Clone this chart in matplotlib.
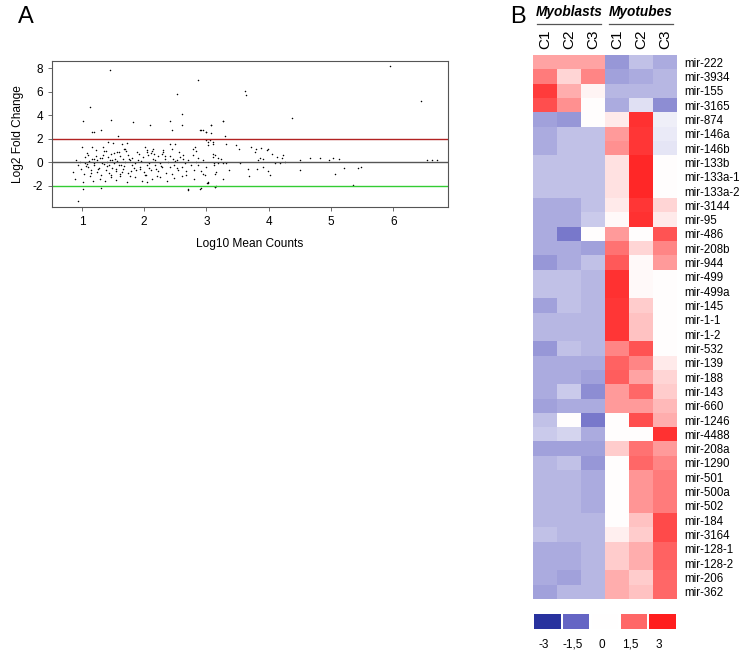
import matplotlib
matplotlib.use("Agg")
import matplotlib.pyplot as plt
import numpy as np
from matplotlib.colors import LinearSegmentedColormap, Normalize

plt.rcParams["font.family"] = ["Liberation Sans", "DejaVu Sans"]
plt.rcParams["axes.unicode_minus"] = False

W, H = 748, 654

# ---- panel A: MA plot (log10 mean counts vs log2 fold change) ----
ma_x = [1.45, 1.13, 1.02, 1.47, 1.17, 1.20, 1.30, 1.82, 2.09, 1.58, 2.42, 2.45,
        2.53, 2.60, 2.60, 2.86, 2.90, 2.95, 2.99, 3.07, 3.07, 3.27, 3.30, 3.62,
        3.63, 4.38, 5.95, 6.45,
        2.71, 2.89, 3.13, 0.94, 1.02, 1.30, 3.03, 5.36,
        1.00, 1.42, 1.50, 1.64, 1.72, 1.69, 1.17, 1.34, 2.01, 2.05, 2.14, 2.41,
        2.44, 2.49, 2.78, 2.81, 2.99, 3.02, 3.10,
        1.05, 1.10, 1.16, 1.23, 1.29, 1.34, 1.42, 1.47, 1.53, 1.61, 1.66, 1.74,
        1.80, 1.90, 1.98, 2.06, 2.11, 2.14, 2.22, 2.28, 2.33, 2.41, 2.47, 2.52,
        2.57, 2.63, 2.70, 2.78, 2.86, 2.94, 3.13,
        0.86, 0.94, 0.99, 1.05, 1.10, 1.15, 1.20, 1.27, 1.33, 1.38, 1.44, 1.49,
        1.54, 1.60, 1.66, 1.74, 1.80, 1.87, 1.93, 2.00, 2.05, 2.11, 2.18, 2.23,
        2.28, 2.35, 2.41, 2.48, 2.54, 2.60, 2.67, 2.75, 2.80, 2.87, 2.91, 2.99,
        3.12, 3.16,
        0.89, 1.02, 1.13, 1.18, 1.29, 1.37, 1.47, 1.55, 1.61, 1.72, 1.85, 1.96,
        2.03, 2.05, 2.13, 2.26, 2.36, 2.48, 2.60, 2.70, 2.80, 2.92, 3.02, 3.13,
        3.08, 3.27, 2.92, 3.00, 3.05, 3.10, 3.03, 3.31, 3.47, 3.52, 3.10, 3.19,
        3.24, 3.12, 3.19, 3.26, 3.32, 3.10, 3.37, 3.54, 2.95, 3.13, 3.27, 3.01,
        3.15,
        3.72, 3.80, 3.88, 3.97, 3.99, 3.78, 4.05, 3.86, 3.91, 3.83, 4.13, 4.21,
        4.23, 4.10, 4.18, 4.26, 3.67, 3.69, 3.91, 3.82, 3.99, 4.02,
        4.50, 4.50, 4.66, 4.82, 4.97, 5.04, 5.06, 5.13, 5.21, 5.44, 5.49,
        6.55, 6.62, 6.70,
        0.90, 0.97, 1.08, 1.12, 1.20, 1.25, 1.36, 1.40, 1.45, 1.52, 1.57, 1.63,
        1.70, 1.77, 1.85, 1.95, 2.08, 2.17, 2.25, 2.38, 2.50, 2.65, 2.83,
        1.03, 1.14, 1.22, 1.31, 1.39, 1.46, 1.56, 1.62, 1.68, 1.78, 1.88, 2.02,
        2.12, 2.20, 2.30, 2.45, 2.56, 2.68, 2.84, 2.97,
        1.07, 1.19, 1.26, 1.33, 1.41, 1.48, 1.55, 1.59, 1.67, 1.75, 1.83, 1.92,
        2.07, 2.16, 2.27, 2.34, 2.52, 2.62, 1.09, 1.24, 1.35, 1.43, 1.51, 1.65,
        1.71, 1.79, 1.94, 2.04, 2.19, 2.31]
ma_y = [7.80, 4.70, 3.50, 3.56, 2.57, 2.57, 2.70, 3.40, 3.20, 2.20, 3.47, 2.77,
        5.80, 4.07, 3.20, 6.95, 2.70, 2.70, 2.60, 3.20, 2.50, 3.47, 2.20, 6.04,
        5.73, 3.76, 8.15, 5.20,
        -2.37, -2.23, -2.10, -3.30, -2.23, -2.20, -1.75, -1.95,
        1.30, 1.70, 1.60, 1.58, 1.64, 1.16, 1.30, 1.30, 1.30, 1.00, 1.16, 1.58,
        1.16, 1.58, 1.16, 1.30, 1.86, 1.72, 1.58,
        0.45, 0.60, 0.30, 0.50, 0.40, 0.60, 0.45, 0.68, 0.30, 0.50, 0.30, 0.60,
        0.40, 0.17, 0.45, 0.60, 0.80, 0.30, 0.50, 0.73, 0.30, 0.50, 0.30, 0.17,
        0.45, 0.30, 0.17, 0.60, 0.40, 0.17, 0.60,
        -0.80, -0.25, -0.54, -0.10, -0.40, -0.68, -0.25, -0.45, -0.10, -0.62, -0.25, -0.45,
        -0.73, -0.25, -0.54, -0.90, -0.25, -0.68, -0.40, -0.82, -0.25, -0.62, -0.25, -0.73,
        -0.40, -0.90, -0.40, -0.25, -0.62, -0.40, -0.73, -0.25, -0.62, -0.25, -0.73, -0.40,
        -0.25, -0.82,
        -1.38, -1.67, -1.19, -1.55, -1.41, -1.60, -1.27, -1.47, -1.19, -1.67, -1.27, -1.55,
        -1.10, -1.67, -1.38, -1.27, -1.60, -1.33, -1.19, -2.30, -1.41, -2.20, -1.67, -2.10,
        3.20, 3.47, 2.77, 2.60, 1.86, 1.72, 1.44, 1.58, 1.44, 1.16, 0.45, 0.40,
        0.30, -0.10, -0.10, -0.10, -0.10, 0.68, -0.68, -0.05, -0.96, -0.96, -1.38, -1.75,
        -2.03,
        1.30, 1.16, 1.24, 1.02, 1.16, 0.88, 0.73, 0.40, 0.30, 0.17, 0.45, 0.40,
        0.60, -0.05, -0.10, 0.03, -0.54, -1.19, -0.40, -0.54, -0.73, -1.10,
        0.17, -0.68, 0.40, 0.40, 0.23, 0.40, -1.02, 0.30, -0.45, -0.45, -0.40,
        0.15, 0.15, 0.15,
        0.20, 0.05, -0.15, 0.10, -0.05, 0.15, -0.15, 0.05, 0.20, -0.10, 0.10, -0.20,
        0.05, 0.15, -0.10, 0.10, -0.05, 0.15, -0.10, 0.05, 0.10, -0.05, 0.05,
        -1.00, -0.95, 1.00, -1.10, 0.95, -1.05, 0.90, -1.00, 1.10, -1.20, 0.85, -1.10,
        0.95, -1.15, 0.90, -1.00, 0.85, -1.05, 0.95, -1.10,
        -0.30, 0.25, -0.60, 0.35, -0.35, 0.20, -0.55, 0.85, -0.35, 0.30, -0.45, 0.70,
        -0.45, 0.70, -0.35, 0.55, -0.50, 0.65, 0.75, -0.80, 0.95, -0.90, 0.80, -0.80,
        0.95, -0.70, -0.60, 0.90, -0.55, 1.05]

# ---- panel B: heatmap of miRNA z-scores ----
mirnas = ["mir-222", "mir-3934", "mir-155", "mir-3165", "mir-874", "mir-146a",
          "mir-146b", "mir-133b", "mir-133a-1", "mir-133a-2", "mir-3144", "mir-95",
          "mir-486", "mir-208b", "mir-944", "mir-499", "mir-499a", "mir-145",
          "mir-1-1", "mir-1-2", "mir-532", "mir-139", "mir-188", "mir-143",
          "mir-660", "mir-1246", "mir-4488", "mir-208a", "mir-1290", "mir-501",
          "mir-500a", "mir-502", "mir-184", "mir-3164", "mir-128-1", "mir-128-2",
          "mir-206", "mir-362"]
samples = ["C1", "C2", "C3", "C1", "C2", "C3"]
groups = ["Myoblasts", "Myotubes"]

myoblasts = [
    [0.9, 0.9, 0.9], [1.3, 0.4, 1.2], [2.4, 0.8, 0.1], [2.0, 1.1, 0.0],
    [-0.9, -1.0, 0.0], [-0.8, -0.6, -0.6], [-0.8, -0.6, -0.6], [-0.6, -0.6, -0.6],
    [-0.6, -0.6, -0.6], [-0.6, -0.6, -0.6], [-0.8, -0.8, -0.6], [-0.8, -0.8, -0.5],
    [-0.8, -1.3, 0.0], [-0.8, -0.8, -0.9], [-1.0, -0.8, -0.6], [-0.6, -0.6, -0.7],
    [-0.6, -0.6, -0.7], [-0.9, -0.6, -0.7], [-0.7, -0.7, -0.7], [-0.7, -0.7, -0.7],
    [-1.0, -0.6, -0.7], [-0.8, -0.8, -0.8], [-0.8, -0.8, -0.9], [-0.8, -0.5, -1.1],
    [-0.9, -0.8, -0.8], [-0.6, 0.0, -1.3], [-0.5, -0.4, -0.8], [-0.9, -0.9, -0.9],
    [-0.7, -0.6, -1.0], [-0.7, -0.7, -0.8], [-0.7, -0.7, -0.8], [-0.7, -0.7, -0.8],
    [-0.7, -0.7, -0.7], [-0.6, -0.7, -0.7], [-0.8, -0.8, -0.7], [-0.8, -0.8, -0.7],
    [-0.8, -0.9, -0.7], [-0.9, -0.7, -0.7]]
myotubes = [
    [-1.0, -0.6, -0.8], [-0.9, -0.8, -0.7], [-0.7, -0.7, -0.7], [-0.8, -0.3, -1.1],
    [0.2, 2.6, -0.15], [1.0, 2.5, -0.2], [1.1, 2.5, -0.25], [0.3, 2.8, 0.0],
    [0.3, 2.8, 0.0], [0.3, 2.8, 0.0], [0.2, 2.5, 0.4], [0.05, 2.6, 0.2],
    [1.0, 0.0, 1.9], [1.4, 0.4, 1.2], [1.8, 0.05, 1.0], [2.6, 0.05, 0.0],
    [2.6, 0.05, 0.0], [2.5, 0.5, 0.0], [2.5, 0.6, 0.0], [2.5, 0.6, 0.0],
    [1.2, 1.9, 0.0], [1.6, 1.2, 0.2], [1.7, 0.9, 0.4], [1.0, 1.5, 0.5],
    [1.0, 1.0, 0.7], [0.0, 2.0, 0.8], [0.0, 0.0, 2.6], [0.5, 1.4, 1.0],
    [0.0, 1.5, 1.2], [0.0, 1.05, 1.3], [0.0, 1.05, 1.3], [0.0, 1.05, 1.3],
    [0.0, 0.6, 2.1], [0.15, 0.5, 2.1], [0.5, 0.8, 1.6], [0.5, 0.8, 1.6],
    [0.8, 0.5, 1.5], [0.8, 0.6, 1.5]]

legend_values = [-3, -1.5, 0, 1.5, 3]
legend_labels = ["-3", "-1,5", "0", "1,5", "3"]


def px_axes(fig, x0, y0, x1, y1):
    # pixel box (top-left origin) -> figure axes
    return fig.add_axes([x0 / W, 1 - y1 / H, (x1 - x0) / W, (y1 - y0) / H])


fig = plt.figure(figsize=(W / 100, H / 100), dpi=100)

# panel A
ax = px_axes(fig, 52, 61, 448, 207)
ax.scatter(ma_x, ma_y, s=1.2, c="black", linewidths=0)
ax.axhline(2, color="#b22222", lw=1.0)
ax.axhline(0, color="#555555", lw=1.0)
ax.axhline(-2, color="#33cc33", lw=1.0)
ax.set_xlim(0.52, 6.88)
ax.set_ylim(-3.8, 8.6)
ax.set_xticks([1, 2, 3, 4, 5, 6])
ax.set_yticks([-2, 0, 2, 4, 6, 8])
ax.tick_params(labelsize=8.5, length=3, width=0.6, color="#555555")
for s in ax.spines.values():
    s.set_color("#555555")
    s.set_linewidth(0.8)
ax.set_xlabel("Log10 Mean Counts", fontsize=8.6, labelpad=7)
ax.set_ylabel("Log2 Fold Change", fontsize=8.6, labelpad=6)
fig.text(18 / W, 1 - 17 / H, "A", fontsize=17, va="center", ha="left")

# panel B
cmap = LinearSegmentedColormap.from_list(
    "bwr_fig",
    [(0.0, "#28329e"), (0.25, "#6464c4"), (0.5, "#ffffff"),
     (0.75, "#ff6868"), (1.0, "#ff1e1e")])
norm = Normalize(vmin=-3, vmax=3)

values = np.hstack([np.array(myoblasts), np.array(myotubes)])
nrow, ncol = values.shape
hx = px_axes(fig, 533, 55, 677, 599)
hx.imshow(values, cmap=cmap, norm=norm, aspect="auto", interpolation="nearest")
hx.set_xticks([])
hx.yaxis.tick_right()
hx.set_yticks(range(nrow))
hx.set_yticklabels(mirnas, fontsize=8.3)
hx.tick_params(axis="y", length=0, pad=5)
for s in hx.spines.values():
    s.set_visible(False)

for i, name in enumerate(samples):
    hx.text(i, -0.95, name, rotation=90, ha="center", va="bottom", fontsize=11)
for g, name in enumerate(groups):
    hx.text(1 + 3 * g, -3.5, name, ha="center", va="center", fontsize=9.8,
            fontweight="bold", fontstyle="italic")
    hx.plot([3 * g - 0.35, 3 * g + 2.35], [-2.67, -2.67], color="#555555", lw=0.9,
            clip_on=False)
hx.set_xlim(-0.5, ncol - 0.5)
hx.set_ylim(nrow - 0.5, -0.5)

fig.text(510 / W, 1 - 17 / H, "B", fontsize=17, va="center", ha="left")

# colour key
lx = px_axes(fig, 533, 614, 677, 629)
lx.bar(range(len(legend_values)), 1, width=0.92, color=cmap(norm(legend_values)),
       align="center")
lx.set_xlim(-0.5, len(legend_values) - 0.5)
lx.set_ylim(0, 1)
lx.axis("off")
for i, lab in enumerate(legend_labels):
    lx.text(i - 0.12, -0.65, lab, ha="center", va="top", fontsize=8.5)

fig.savefig("out.png", dpi=100)
